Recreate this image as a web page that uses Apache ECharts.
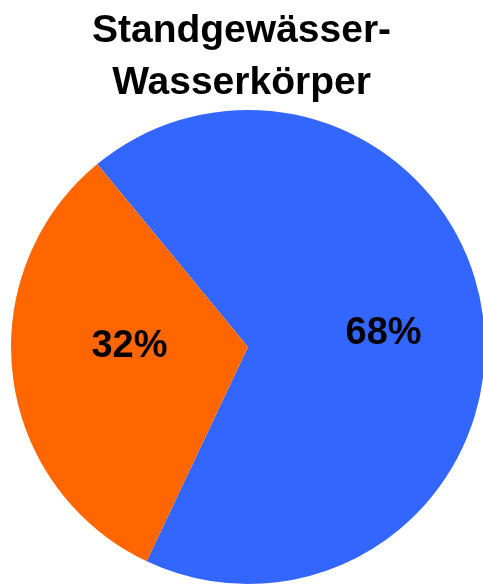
<!DOCTYPE html>
<html>
<head>
<meta charset="utf-8">
<script src="https://cdn.jsdelivr.net/npm/echarts@6/dist/echarts.min.js"></script>
<style>
  html, body { margin: 0; padding: 0; background: #fff; }
  #chart { width: 483px; height: 586px; }
</style>
</head>
<body>
<div id="chart"></div>
<script>
// Share of standing-water bodies
const categories = ['Gruppe A', 'Gruppe B'];
const shares = [68, 32];
const sliceColors = ['#3366FF', '#FF6600'];

const chart = echarts.init(document.getElementById('chart'), null, { renderer: 'canvas' });

// per-slice nudges for the percentage labels
const labelNudge = [[15, 2], [2, -16]];

chart.setOption({
  animation: false,
  title: {
    text: 'Standgewässer-\nWasserkörper',
    left: 'center',
    top: 0,
    textStyle: {
      fontFamily: 'Liberation Sans, Arial, sans-serif',
      fontWeight: 'bold',
      fontSize: 39,
      lineHeight: 52,
      color: '#000'
    }
  },
  series: [{
    type: 'pie',
    center: [248, 347],
    radius: [0, 237],
    startAngle: 129.5,
    clockwise: true,
    avoidLabelOverlap: false,
    itemStyle: { borderWidth: 0 },
    label: {
      show: true,
      position: 'inside',
      formatter: '{c}%',
      fontFamily: 'Liberation Sans, Arial, sans-serif',
      fontWeight: 'bold',
      fontSize: 38,
      color: '#000'
    },
    labelLine: { show: false },
    emphasis: { disabled: true },
    data: categories.map((name, i) => ({
      name: name,
      value: shares[i],
      itemStyle: { color: sliceColors[i] },
      label: { offset: labelNudge[i] }
    }))
  }]
});
</script>
</body>
</html>
